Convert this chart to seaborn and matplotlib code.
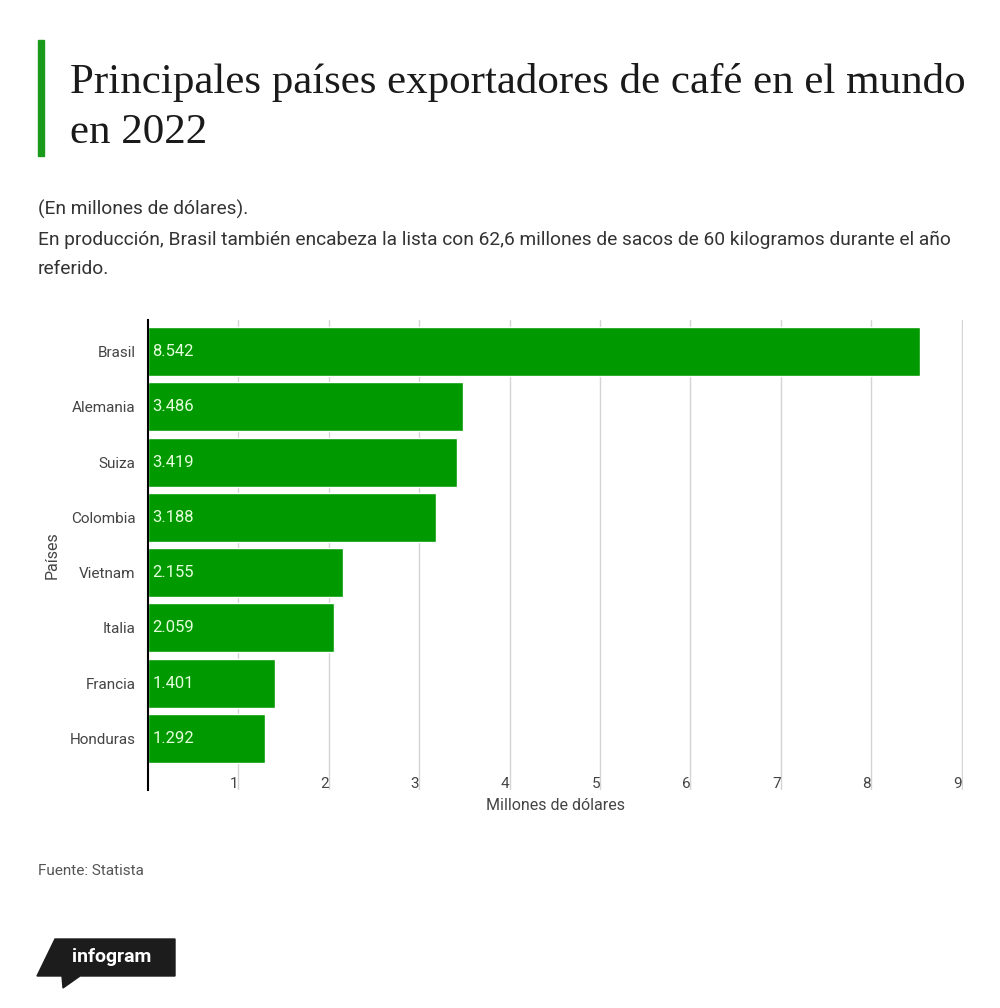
import matplotlib
matplotlib.use("Agg")
import matplotlib.pyplot as plt
import matplotlib.transforms as mtransforms
from matplotlib.patches import Polygon, Rectangle
import seaborn as sns
import pandas as pd

paises = ["Brasil", "Alemania", "Suiza", "Colombia", "Vietnam", "Italia", "Francia", "Honduras"]
valores = [8.542, 3.486, 3.419, 3.188, 2.155, 2.059, 1.401, 1.292]
xticks = [1, 2, 3, 4, 5, 6, 7, 8, 9]

titulo = "Principales países exportadores de café en el mundo\nen 2022"
subtitulo = ("(En millones de dólares).\n"
             "En producción, Brasil también encabeza la lista con 62,6 millones de sacos de 60 kilogramos durante el año\n"
             "referido.")
fuente = "Fuente: Statista"

df = pd.DataFrame({"Países": paises, "Valor": valores})

sns.set_theme(style="white")
plt.rcParams['font.family'] = ['Roboto', 'DejaVu Sans']

W, H = 1000, 1008
fig = plt.figure(figsize=(W / 100, H / 100), dpi=100)
fig.patch.set_facecolor("white")

ax = fig.add_axes([148 / W, 1 - 790 / H, 815.4 / W, 470 / H])
sns.barplot(data=df, x="Valor", y="Países", orient="h", color="#009a00",
            saturation=1, width=0.886, ax=ax, zorder=3)

ax.set_xlim(0, 9.02)
ax.set_ylim(7.93, -0.57)
ax.set_xticks(xticks)
ax.set_xticklabels([str(t) for t in xticks], ha="right", color="#444444", fontsize=11)
off = mtransforms.ScaledTranslation(-5 / 100, 0, fig.dpi_scale_trans)
for lab in ax.get_xticklabels():
    lab.set_transform(lab.get_transform() + off)
ax.tick_params(axis="x", length=0, pad=-9.5)
ax.tick_params(axis="y", length=0, pad=9, labelcolor="#444444", labelsize=11)
ax.grid(axis="x", color="#d4d4d4", linewidth=1, zorder=0)
ax.grid(axis="y", visible=False)
for s in ["top", "right", "bottom"]:
    ax.spines[s].set_visible(False)
ax.spines["left"].set_color("black")
ax.spines["left"].set_linewidth(1.5)
ax.spines["left"].set_zorder(5)

ax.set_xlabel("Millones de dólares", fontsize=11.5, color="#444444", labelpad=5)
ax.set_ylabel("Países", fontsize=11.5, color="#444444", labelpad=7)

txt_off = mtransforms.offset_copy(ax.transData, fig=fig, x=3, y=0, units="points")
for i, v in enumerate(valores):
    ax.text(0, i, f"{v:.3f}", transform=txt_off, ha="left", va="center",
            color="#e6ffdc", fontsize=12, zorder=6)

# Title block
fig.patches.append(Rectangle((38 / W, 1 - 156 / H), 6 / W, 116 / H,
                             transform=fig.transFigure, color="#1a9a1a"))
fig.text(70 / W, 1 - 143 / H, titulo, fontsize=31, family="Liberation Serif",
         color="#1a1a1a", va="baseline", ha="left", linespacing=1.38)
fig.text(38 / W, 1 - 200 / H, subtitulo, fontsize=13.8, color="#333333",
         va="top", ha="left", linespacing=1.82)
fig.text(38 / W, 1 - 871 / H, fuente, fontsize=11, color="#555555",
         va="center", ha="left")

# infogram logo
pts = [(55, 939), (175, 939), (175, 976), (80, 976), (63, 988), (62, 976), (37, 976)]
fig.patches.append(Polygon([(x / W, 1 - y / H) for x, y in pts], closed=True,
                           transform=fig.transFigure, color="#1c1c1c"))
fig.text(112 / W, 1 - 957 / H, "infogram", fontsize=14, fontweight="bold",
         color="white", ha="center", va="center", family="Roboto")

fig.savefig("out.png", dpi=100, facecolor="white")
